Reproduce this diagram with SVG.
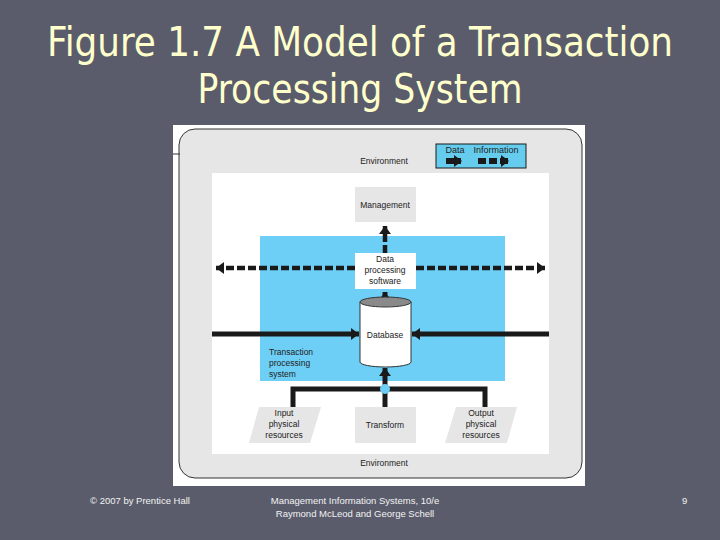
<svg xmlns="http://www.w3.org/2000/svg" width="720" height="540" viewBox="0 0 720 540">
<defs>
<style>
.t{font-family:"Liberation Sans",Arial,sans-serif;font-size:8.5px;fill:#222;text-anchor:middle}
.tl{font-family:"Liberation Sans",Arial,sans-serif;font-size:8.5px;fill:#222}
.ft{font-family:"Liberation Sans",Arial,sans-serif;font-size:9.5px;fill:#f2f2f2}
.title{font-family:"DejaVu Sans Condensed","DejaVu Sans",sans-serif;font-size:40px;fill:#ffffcc}
.box{fill:#e6e6e6}
.solid{stroke:#1a1a1a;stroke-width:5;fill:none}
.dash{stroke:#1a1a1a;stroke-width:4.5;fill:none;stroke-dasharray:8 3}
</style>
<marker id="ah" markerUnits="userSpaceOnUse" markerWidth="10" markerHeight="12" refX="8" refY="6" orient="auto">
<path d="M0,0 L8,6 L0,12 Z" fill="#1a1a1a"/>
</marker>
<marker id="ahL" markerUnits="userSpaceOnUse" markerWidth="10" markerHeight="12" refX="7" refY="6" orient="auto">
<path d="M0,0 L8,6 L0,12 Z" fill="#1a1a1a"/>
</marker>
</defs>
<rect width="720" height="540" fill="#5a5c6b"/>
<text class="title" x="360" y="56" text-anchor="middle" textLength="626" lengthAdjust="spacingAndGlyphs">Figure 1.7 A Model of a Transaction</text>
<text class="title" x="360" y="103" text-anchor="middle" textLength="325" lengthAdjust="spacingAndGlyphs">Processing System</text>

<rect x="173" y="125" width="412" height="361" fill="#ffffff"/>
<rect x="179" y="129" width="403" height="349" rx="16" fill="#e6e6e6" stroke="#333" stroke-width="1"/>
<line x1="173" y1="154" x2="180" y2="154" stroke="#333" stroke-width="1"/>
<text class="t" x="384" y="164">Environment</text>

<g id="legend">
<rect x="436" y="144" width="90" height="24" fill="#66ccee" stroke="#1a1a1a" stroke-width="1"/>
<text class="t" x="455" y="153" style="font-size:9px">Data</text>
<text class="t" x="496" y="153" style="font-size:9px">Information</text>
<line x1="446" y1="161" x2="461" y2="161" stroke="#1a1a1a" stroke-width="6" marker-end="url(#ahL)"/>
<line x1="478" y1="161" x2="508" y2="161" stroke="#1a1a1a" stroke-width="6" stroke-dasharray="8 3" marker-end="url(#ahL)"/>
</g>

<rect x="212" y="173" width="337" height="281" fill="#ffffff"/>
<rect id="tps" x="260" y="236" width="245" height="145" fill="#6dcff6"/>
<text class="tl" x="269" y="355">Transaction</text>
<text class="tl" x="269" y="366">processing</text>
<text class="tl" x="269" y="377">system</text>

<g id="connectors">
<line x1="385" y1="253" x2="385" y2="226" class="dash" marker-end="url(#ah)"/>
<line x1="355" y1="268" x2="216" y2="268" class="dash" marker-end="url(#ah)"/>
<line x1="416" y1="268" x2="545" y2="268" class="dash" marker-end="url(#ah)"/>
<line x1="385" y1="305" x2="385" y2="292" class="solid" marker-end="url(#ah)"/>
<line x1="212" y1="334" x2="359" y2="334" class="solid" marker-end="url(#ah)"/>
<line x1="549" y1="334" x2="412" y2="334" class="solid" marker-end="url(#ah)"/>
<line x1="385" y1="407" x2="385" y2="368" class="solid" marker-end="url(#ah)"/>
<polyline points="293,407 293,389 485,389 485,407" class="solid"/>
<circle cx="385" cy="389" r="5" fill="#6dcff6"/>
</g>

<g id="management">
<rect class="box" x="355" y="187" width="61" height="35"/>
<text class="t" x="385" y="208">Management</text>
</g>

<g id="dps">
<rect x="355" y="253" width="61" height="36" fill="#ffffff"/>
<text class="t" x="385" y="262">Data</text>
<text class="t" x="385" y="273">processing</text>
<text class="t" x="385" y="284">software</text>
</g>

<g id="database">
<path d="M360,302 L360,362 A25.5,5 0 0 0 411,362 L411,302" fill="#ffffff" stroke="#333" stroke-width="1"/>
<ellipse cx="385.5" cy="302" rx="25.5" ry="5" fill="#8a8a8a" stroke="#333" stroke-width="1"/>
<text class="t" x="385" y="338">Database</text>
</g>

<g id="input">
<polygon points="259,407 321,407 310,443 249,443" class="box"/>
<text class="t" x="284" y="416">Input</text>
<text class="t" x="284" y="427">physical</text>
<text class="t" x="284" y="438">resources</text>
</g>

<g id="transform">
<rect class="box" x="355" y="407" width="61" height="36"/>
<text class="t" x="385" y="428">Transform</text>
</g>

<g id="output">
<polygon points="456,407 517,407 507,443 445,443" class="box"/>
<text class="t" x="481" y="416">Output</text>
<text class="t" x="481" y="427">physical</text>
<text class="t" x="481" y="438">resources</text>
</g>

<text class="t" x="384" y="466">Environment</text>

<text class="ft" x="90" y="504">© 2007 by Prentice Hall</text>
<text class="ft" x="355" y="504" text-anchor="middle">Management Information Systems, 10/e</text>
<text class="ft" x="355" y="517" text-anchor="middle">Raymond McLeod and George Schell</text>
<text class="ft" x="682" y="504">9</text>
</svg>
